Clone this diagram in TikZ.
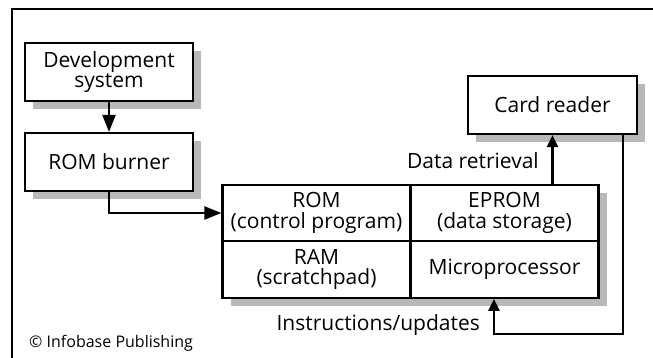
\documentclass[tikz,border=0pt]{standalone}
\usepackage{fontspec}
\setmainfont{Open Sans}
\usetikzlibrary{arrows.meta,shadows}

\begin{document}
\begin{tikzpicture}[
  x=1pt, y=-1pt,
  font=\fontsize{21}{20.5}\selectfont,
  box/.style={draw=black, fill=white, line width=2.2pt, align=center,
              minimum width=168pt, minimum height=58pt, inner sep=2pt,
              drop shadow={shadow xshift=8pt, shadow yshift=-8pt,
                           fill=black!28, opacity=1}},
  cell/.style={box, minimum width=188pt, minimum height=56.5pt},
  lbl/.style={inner sep=0pt, anchor=base east},
  bigarr/.style={-{Triangle[length=17pt, width=13pt]}, line width=2.2pt},
  smallarr/.style={-{Triangle[length=12pt, width=11pt]}, line width=2.2pt},
]
\useasboundingbox (0,0) rectangle (653,358);

% ---------------- frame ---------------------------------------------------
\draw[line width=1.6pt] (12,358) -- (12,9) -- (653,9);

% ---------------- development side ----------------------------------------
\node[box] (devsys) at (109,72) {Development\\system};
\node[box] (burner) at (109,162) {ROM burner};

% ---------------- smart card block ----------------------------------------
\node[cell] (rom)   at (316.5,213)   {ROM\\(control program)};
\node[cell] (eprom) at (504.5,213)   {EPROM\\(data storage)};
\node[cell] (ram)   at (316.5,269.5) {RAM\\(scratchpad)};
\node[cell] (mpu)   at (504.5,269.5) {Microprocessor};

% ---------------- card reader ---------------------------------------------
\node[box, minimum width=169pt] (card) at (552.5,105) {Card reader};

% ---------------- connectors ----------------------------------------------
\draw[bigarr] (devsys) -- (burner);
\draw[bigarr] (burner.south) |- (rom.west);

\draw[smallarr] (card.south |- eprom.north) -- (card.south);
\node[lbl] (dr) at (539,169) {Data retrieval};

\coordinate (turn) at (494,334);
\draw[smallarr] ([xshift=-15pt]card.south east) |- (turn) -- (turn |- mpu.south);
\node[lbl] (iu) at (480,330) {Instructions/updates};

% ---------------- credit --------------------------------------------------
\node[inner sep=0pt, anchor=base west, font=\fontsize{16}{18}\selectfont]
  (credit) at (29,347) {© Infobase Publishing};

\end{tikzpicture}
\end{document}
